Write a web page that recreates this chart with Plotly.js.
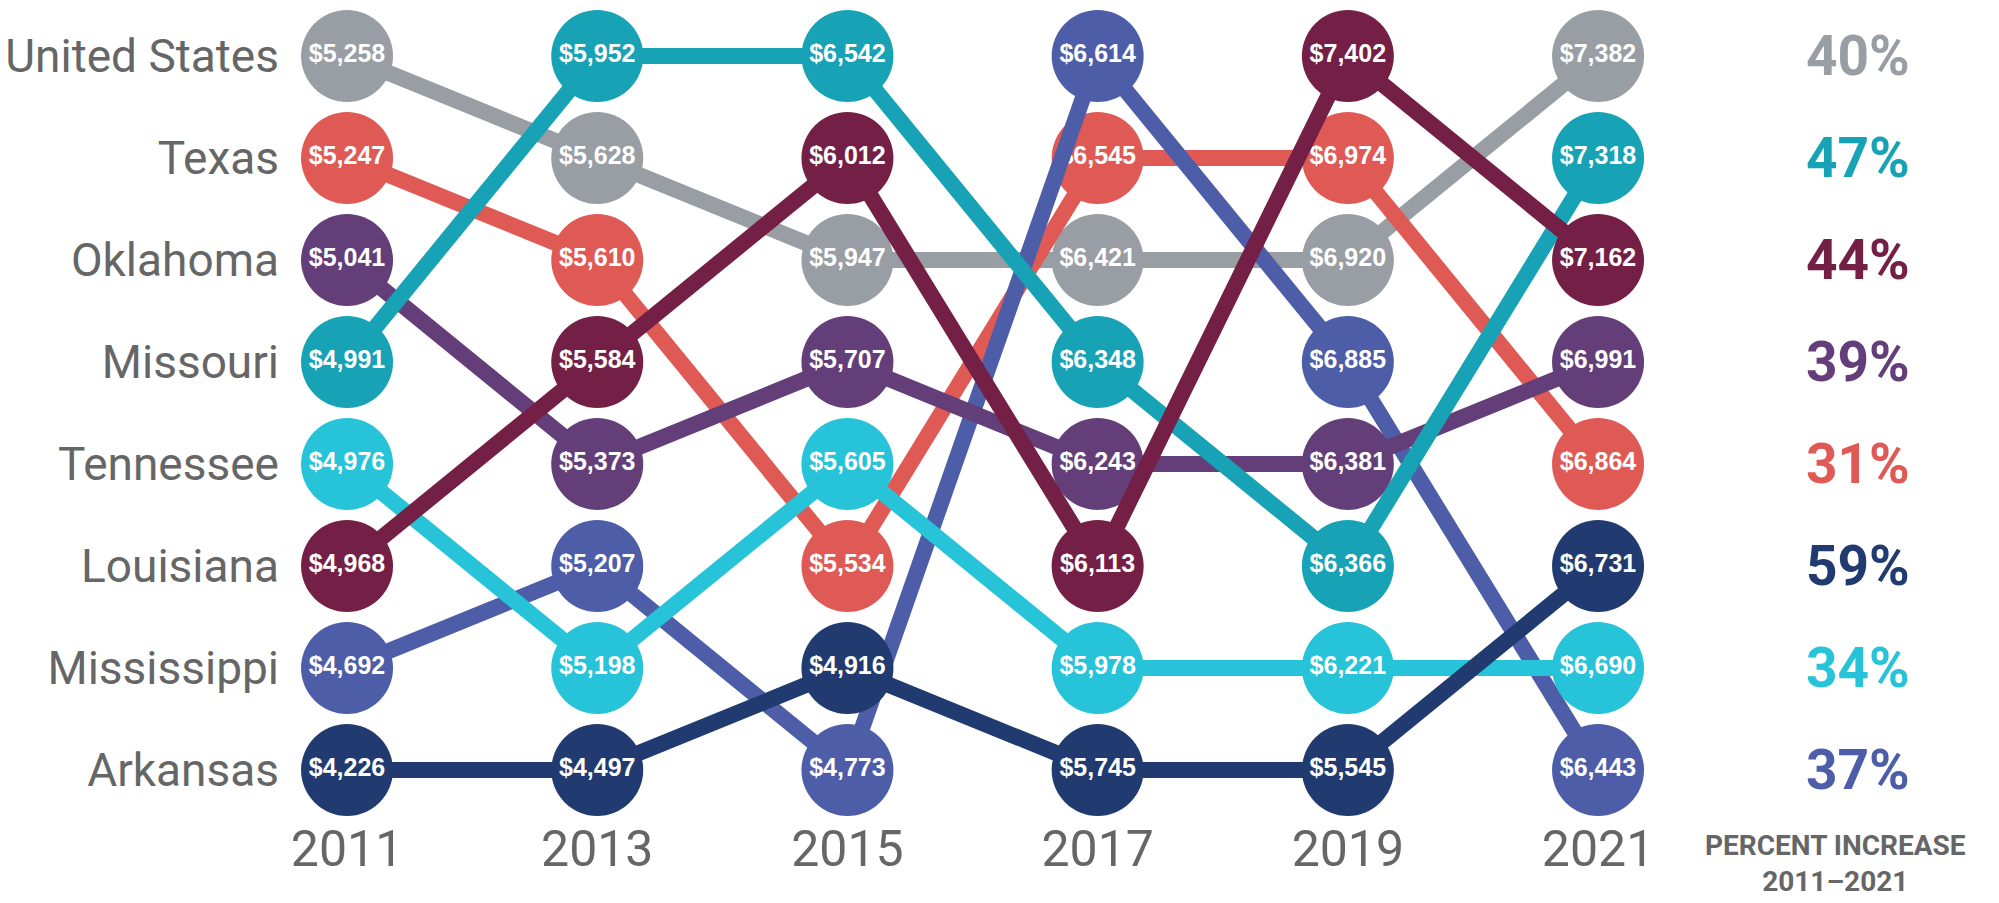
<!DOCTYPE html>
<html>
<head>
<meta charset="utf-8">
<script src="https://cdn.plot.ly/plotly-3.0.1.min.js"></script>
<style>
  html, body { margin: 0; padding: 0; background: #ffffff; }
  #chart { width: 1999px; height: 903px; }
</style>
</head>
<body>
<div id="chart"></div>
<script>
// ---- Data ----
const years = [2011, 2013, 2015, 2017, 2019, 2021];
const states = ["United States", "Texas", "Oklahoma", "Missouri", "Tennessee", "Louisiana", "Mississippi", "Arkansas"];
const unitedStates = [5258, 5628, 5947, 6421, 6920, 7382];
const texas        = [5247, 5610, 5534, 6545, 6974, 6864];
const oklahoma     = [5041, 5373, 5707, 6243, 6381, 6991];
const missouri     = [4991, 5952, 6542, 6348, 6366, 7318];
const tennessee    = [4976, 5198, 5605, 5978, 6221, 6690];
const louisiana    = [4968, 5584, 6012, 6113, 7402, 7162];
const mississippi  = [4692, 5207, 4773, 6614, 6885, 6443];
const arkansas     = [4226, 4497, 4916, 5745, 5545, 6731];
const percentIncrease = ["40%", "31%", "39%", "47%", "34%", "44%", "37%", "59%"];
const colors = ["#999da4", "#e05a55", "#633e78", "#17a2b6", "#27c3d8", "#742046", "#4d5da8", "#213b71"];
const footerLines = ["PERCENT INCREASE", "2011–2021"];

const series = [unitedStates, texas, oklahoma, missouri, tennessee, louisiana, mississippi, arkansas];

// rank of each state in each year (1 = highest)
const ranks = series.map(() => []);
years.forEach((yr, j) => {
  const order = series.map((s, i) => ({ i: i, v: s[j] })).sort((a, b) => b.v - a.v);
  order.forEach((o, r) => { ranks[o.i][j] = r + 1; });
});

const fmt = v => "$" + v.toLocaleString("en-US");

// Draw order (bottom to top)
const drawOrder = [0, 1, 6, 2, 4, 3, 7, 5];
const traces = drawOrder.map(i => ({
  type: "scatter",
  mode: "lines+markers+text",
  x: years,
  y: ranks[i],
  name: states[i],
  line: { color: colors[i], width: 16 },
  marker: { color: colors[i], size: 92, line: { width: 0 } },
  text: series[i].map(fmt),
  textposition: "middle center",
  textfont: { family: "Liberation Sans, Arial, sans-serif", size: 25, color: "#ffffff", weight: 700 },
  cliponaxis: false,
  hoverinfo: "skip"
}));

const annotations = states.map((s, i) => ({
  xref: "x", yref: "y",
  x: 2023.08, y: ranks[i][years.length - 1],
  text: percentIncrease[i],
  showarrow: false,
  xanchor: "center", yanchor: "middle",
  font: { family: "Roboto, sans-serif", size: 55, color: colors[i], weight: 700 }
}));
annotations.push({
  xref: "x", yref: "paper",
  x: 2022.90, y: -0.0601,
  text: footerLines.join("<br>"),
  showarrow: false,
  xanchor: "center", yanchor: "middle",
  font: { family: "Roboto, sans-serif", size: 28, color: "#666666", weight: 700 }
});

const layout = {
  width: 1999, height: 903,
  paper_bgcolor: "#ffffff", plot_bgcolor: "#ffffff",
  margin: { l: 300, r: 0, t: 0, b: 88 },
  showlegend: false,
  xaxis: {
    range: [2010.624, 2024.205],
    tickvals: years,
    ticktext: years.map(String),
    showgrid: false, zeroline: false, showline: false, ticks: "",
    tickfont: { family: "Roboto, sans-serif", size: 50, color: "#666666" }
  },
  yaxis: {
    range: [8.441, 0.451],
    tickvals: [1, 2, 3, 4, 5, 6, 7, 8],
    ticktext: states,
    showgrid: false, zeroline: false, showline: false, ticks: "",
    ticklabelstandoff: 20,
    tickfont: { family: "Roboto, sans-serif", size: 46, color: "#666666" }
  },
  annotations: annotations
};

Plotly.newPlot("chart", traces, layout, { displayModeBar: false, staticPlot: true });
</script>
</body>
</html>
